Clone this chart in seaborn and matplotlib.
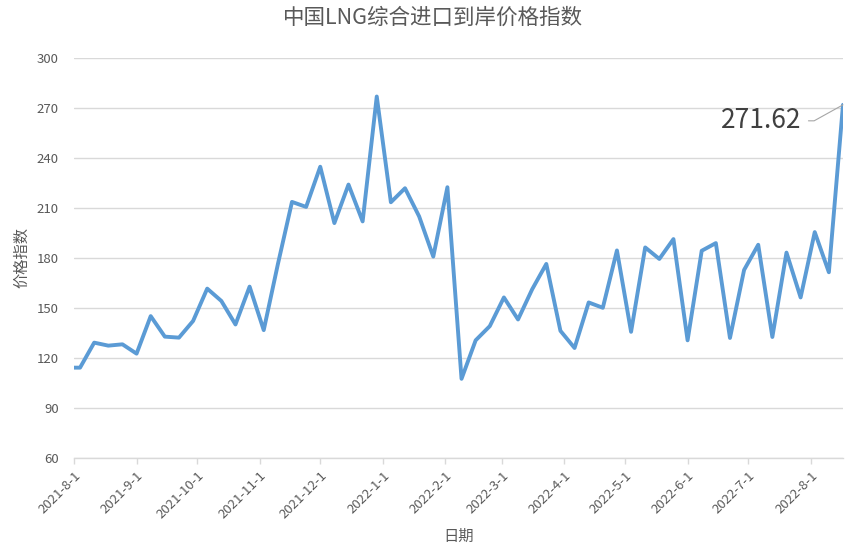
import numpy as np
import pandas as pd
import seaborn as sns
import matplotlib
matplotlib.use("Agg")
import matplotlib.pyplot as plt
import matplotlib.dates as mdates
from matplotlib.ticker import FuncFormatter, MultipleLocator

# weekly index values
first_date = "2021-08-01"
weekly_start = "2021-08-04"
n_weekly = 55
index_values = [
    114, 114, 129, 127.2, 128, 122.4, 144.9, 132.6, 132, 142,
    161.4, 154, 139.9, 162.6, 136.5, 176, 213.4, 210.4, 234.5, 200.7,
    223.8, 201.7, 276.6, 213.2, 221.6, 204.7, 180.6, 222.2, 107.3, 130.4,
    138.9, 156.1, 142.9, 161, 176.2, 136.1, 125.8, 153.1, 149.9, 184.3,
    135.5, 186.1, 179.2, 191.1, 130.4, 184.1, 188.7, 131.8, 172.6, 187.7,
    132.4, 183, 156.1, 195.3, 171.2, 271.62,
]
y_ticks = [60, 90, 120, 150, 180, 210, 240, 270, 300]

dates = pd.DatetimeIndex([pd.Timestamp(first_date)]).append(
    pd.date_range(weekly_start, periods=n_weekly, freq="7D"))
df = pd.DataFrame({"date": dates, "value": index_values})

sns.set_theme(style="white")
plt.rcParams["font.family"] = ["Noto Sans CJK SC", "DejaVu Sans"]

grey = "#595959"
fig, ax = plt.subplots(figsize=(8.65, 5.55), dpi=100)
fig.subplots_adjust(left=74 / 865, right=843 / 865, top=1 - 57.5 / 555, bottom=1 - 457.7 / 555)

sns.lineplot(data=df, x="date", y="value", color="#5B9BD5", linewidth=2.8, ax=ax)

ax.set_ylim(60, 300)
ax.set_yticks(y_ticks)
ax.set_xlim(df["date"].iloc[0], df["date"].iloc[-1])
ax.yaxis.grid(True, color="#d9d9d9", linewidth=1)
ax.xaxis.grid(False)
for s in ["top", "right", "left"]:
    ax.spines[s].set_visible(False)
ax.spines["bottom"].set_color("#d9d9d9")
ax.spines["bottom"].set_linewidth(1)

ax.xaxis.set_major_locator(mdates.MonthLocator(bymonthday=1))
ax.xaxis.set_major_formatter(FuncFormatter(
    lambda v, pos: (lambda d: f"{d.year}-{d.month}-{d.day}")(mdates.num2date(v))))
ax.tick_params(axis="x", bottom=True, length=4, width=1, color="#d9d9d9",
               labelsize=9.5, labelcolor=grey, pad=4)
ax.tick_params(axis="y", left=False, length=0, labelsize=9.5, labelcolor=grey, pad=11)
for lab in ax.get_xticklabels():
    lab.set_rotation(45)
    lab.set_ha("right")
    lab.set_rotation_mode("anchor")

ax.set_xlabel("日期", fontsize=11, color=grey, labelpad=5)
ax.set_ylabel("价格指数", fontsize=11, color=grey, labelpad=5)
fig.suptitle("中国LNG综合进口到岸价格指数", fontsize=15.5, color=grey, y=0.988)

last = df.iloc[-1]
ax.annotate(f"{last['value']:.2f}", xy=(last["date"], last["value"]),
            xytext=(-42, -16), textcoords="offset pixels",
            ha="right", va="center", fontsize=19, color="#404040",
            arrowprops=dict(arrowstyle="-", color="#a6a6a6", lw=0.8,
                            shrinkA=3, shrinkB=0,
                            connectionstyle="angle,angleA=0,angleB=29,rad=0"))

fig.savefig("out.png", dpi=100)
